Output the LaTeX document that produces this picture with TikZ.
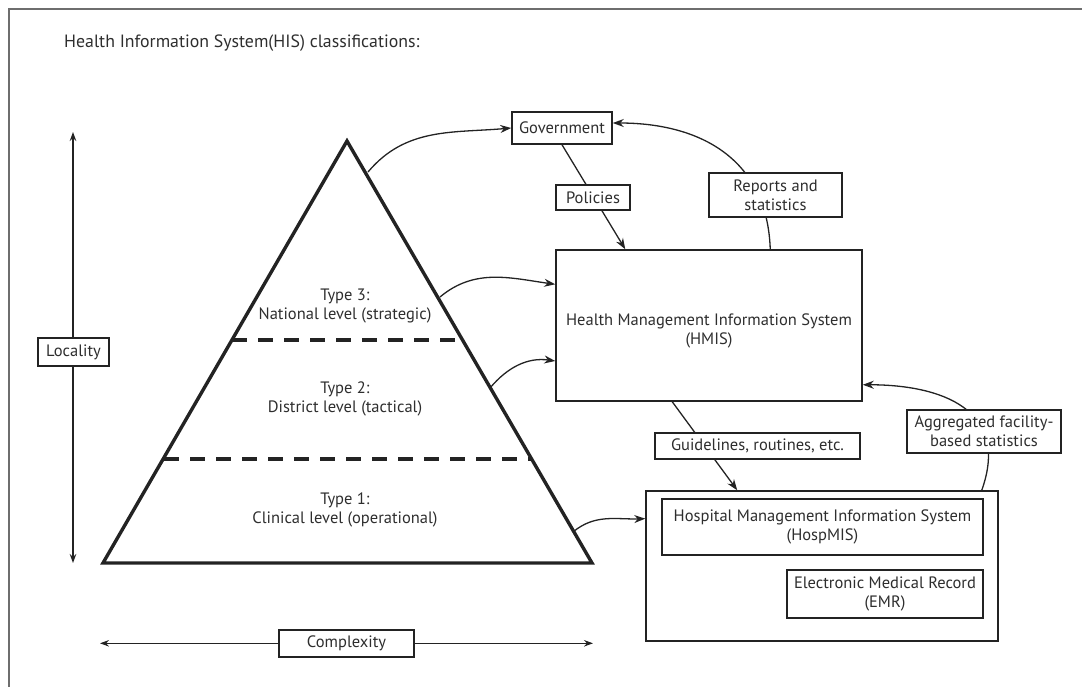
\documentclass[tikz,border=0pt]{standalone}
\usepackage{fontspec}
\setmainfont{PT Sans}
\usetikzlibrary{arrows.meta,calc}

\definecolor{inkc}{HTML}{232323}
\definecolor{txtc}{HTML}{2E2E2E}
\definecolor{framec}{HTML}{6E6E6E}

\newcommand{\lblfont}{\fontsize{16.5}{19}\selectfont}
\newcommand{\headfont}{\fontsize{17.8}{21}\selectfont}

\tikzset{
  box/.style={draw=inkc, line width=1.5pt, fill=white, inner sep=0pt,
              align=center, font=\lblfont, text=txtc},
  plain/.style={inner sep=0pt, align=center, font=\lblfont, text=txtc},
  link/.style={draw=inkc, line width=1.3pt},
  arr/.style={link, -{Stealth[length=11pt,width=8pt]}},
  dblarr/.style={link, {Stealth[length=9pt,width=6.5pt]}-{Stealth[length=9pt,width=6.5pt]}},
  level/.style={draw=inkc, line width=4pt, dash pattern=on 15pt off 11pt},
}

\begin{document}
\begin{tikzpicture}[x=1pt, y=1pt]
\useasboundingbox (0,0) rectangle (1082,-686);

% page frame
\draw[framec, line width=1.8pt] (9,-690) -- (9,-9) -- (1090,-9);

% heading
\node[plain, font=\headfont, anchor=west] (title) at (64,-43) {Health Information System(HIS) classifications:};

% pyramid of system levels
\coordinate (apex) at (347,-141);
\coordinate (baseL) at (103,-563);
\coordinate (baseR) at (592,-563);
\draw[level] (232,-340) -- (462,-340);
\draw[level] (164,-459) -- (531,-459);
\draw[inkc, line width=3.4pt, line join=miter] (apex) -- (baseR) -- (baseL) -- cycle;

\node[plain] (t3) at (345,-306.5) {Type 3:\\National level (strategic)};
\node[plain] (t2) at (345,-399) {Type 2:\\District level (tactical)};
\node[plain] (t1) at (345,-510) {Type 1:\\Clinical level (operational)};

% axes
\coordinate (locTop) at (73,-132);
\coordinate (locBot) at (73,-563);
\draw[dblarr] (locTop) -- (locBot);
\node[box, minimum width=71pt, minimum height=28pt] (loc) at (73.5,-352) {Locality};

\coordinate (cxL) at (100,-643.3);
\coordinate (cxR) at (593,-643.3);
\draw[dblarr] (cxL) -- (cxR);
\node[box, minimum width=135pt, minimum height=27pt] (cx) at (346.5,-643.5) {Complexity};

% system boxes
\node[box, minimum width=100pt, minimum height=32pt] (gov) at (562,-128) {Government};
\node[box, minimum width=306pt, minimum height=151pt] (hmis) at (709,-325.5) {};
\node[plain] (hmistext) at (709,-330.5) {Health Management Information System\\(HMIS)};
\node[box, minimum width=352pt, minimum height=150pt] (hosp) at (822,-566) {};
\node[box, minimum width=321pt, minimum height=56pt] (hospmis) at (822.5,-527) {Hospital Management Information System\\(HospMIS)};
\node[box, minimum width=196pt, minimum height=48pt] (emr) at (885,-594) {Electronic Medical Record\\(EMR)};

% flows between levels and systems
\coordinate (p3) at (368,-172);
\coordinate (p3b) at (440,-297);
\coordinate (p2) at (490,-388);
\coordinate (p1) at (573,-532);
\draw[arr] (p3) to[out=50, in=185] (gov.west);
\draw[arr] (p3b) to[out=40, in=172] (hmis.165);
\draw[arr] (p2) to[out=50, in=172] (hmis.193.5);
\draw[arr] (p1) to[out=40, in=182] (hosp.165);

% policies down from government
\draw[arr] (gov.south) -- ($(hmis.north west)+(70,0)$);
\node[box, minimum width=74pt, minimum height=25pt] (pol) at (593,-197.5) {Policies};

% reports up to government
\draw[arr] ($(hmis.north west)+(215,0)$) .. controls +(-3,90) and +(88,0) .. ($(gov.east)+(0,5)$);
\node[box, minimum width=133pt, minimum height=44pt] (rep) at (775.5,-195) {Reports and\\statistics};

% guidelines down to the hospital
\draw[arr] ($(hmis.south west)+(117,0)$) -- ($(hosp.north west)+(92,0)$);
\node[box, minimum width=205pt, minimum height=26pt] (guide) at (757.5,-446) {Guidelines, routines, etc.};

% aggregated statistics up to HMIS
\draw[arr] ($(hosp.north east)+(-17,0)$) .. controls +(29,81) and +(78,0) .. ($(hmis.south east)+(0,17)$);
\node[box, minimum width=154pt, minimum height=43pt] (agg) at (984,-431.5) {Aggregated facility-\\based statistics};

\end{tikzpicture}
\end{document}
